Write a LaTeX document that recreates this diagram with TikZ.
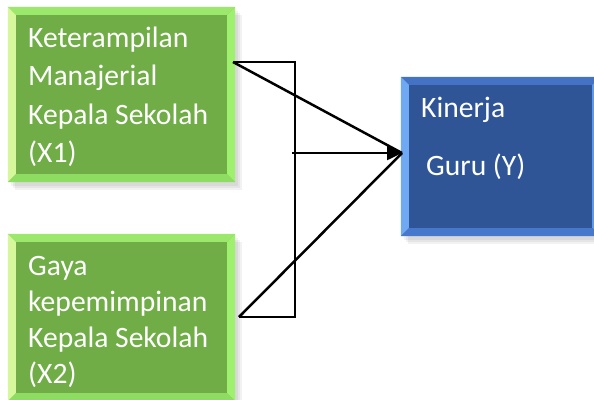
\documentclass[tikz,border=0pt]{standalone}
\usepackage{fontspec}
\setmainfont{Carlito}
\usetikzlibrary{arrows.meta,calc}
\definecolor{gface}{HTML}{70AD47}
\definecolor{gtop}{HTML}{9BE86C}
\definecolor{gleft}{HTML}{D6F79C}
\definecolor{gright}{HTML}{A0F070}
\definecolor{gbot}{HTML}{8FDC63}
\definecolor{bface}{HTML}{2F5597}
\definecolor{btop}{HTML}{4472C4}
\definecolor{bleft}{HTML}{6FA9F4}
\definecolor{bright}{HTML}{5B9BEF}
\definecolor{bbot}{HTML}{4878CC}
\tikzset{
  box/.style={rectangle, inner sep=0pt, draw=none},
  lbl/.style={anchor=base west, inner sep=0pt, text=white, font=\fontsize{29.6}{34}\selectfont},
  conn/.style={line width=2.5pt, draw=black},
}
\newcommand\bevelbox[6]{%
  \fill[black,opacity=0.05] ($(#1.north west)+(3,4)$) rectangle ($(#1.south east)+(3,4)$);
  \fill[black,opacity=0.05] ($(#1.north west)+(5,6)$) rectangle ($(#1.south east)+(5,6)$);
  \fill[black,opacity=0.05] ($(#1.north west)+(7,8)$) rectangle ($(#1.south east)+(7,8)$);
  \fill[#2] (#1.north west) rectangle (#1.south east);
  \fill[#3] (#1.north west) -- (#1.north east) -- ($(#1.north east)+(-8,8)$) -- ($(#1.north west)+(8,8)$) -- cycle;
  \fill[#4] (#1.north west) -- (#1.south west) -- ($(#1.south west)+(8,-8)$) -- ($(#1.north west)+(8,8)$) -- cycle;
  \fill[#5] (#1.north east) -- (#1.south east) -- ($(#1.south east)+(-8,-8)$) -- ($(#1.north east)+(-8,8)$) -- cycle;
  \fill[#6] (#1.south west) -- (#1.south east) -- ($(#1.south east)+(-8,-8)$) -- ($(#1.south west)+(8,-8)$) -- cycle;
  \fill[#2] ($(#1.north west)+(8,8)$) rectangle ($(#1.south east)+(-8,-8)$);
}
\begin{document}
\begin{tikzpicture}[x=1pt,y=-1pt]
\useasboundingbox (0,0) rectangle (594,399);
\clip (0,0) rectangle (594,399);
\fill[white] (0,0) rectangle (594,399);
\node[box, minimum width=227pt, minimum height=175pt] (X1) at (121.5,94.5) {};
\node[box, minimum width=227pt, minimum height=167pt] (X2) at (121.5,317.5) {};
\node[box, minimum width=199pt, minimum height=159pt] (Y) at (500.5,156.5) {};
\bevelbox{X1}{gface}{gtop}{gleft}{gright}{gbot}
\bevelbox{X2}{gface}{gtop}{gleft}{gright}{gbot}
\bevelbox{Y}{bface}{btop}{bleft}{bright}{bbot}
\node[lbl] (x1a) at (28,47) {Keterampilan};
\node[lbl] (x1b) at (28,85.5) {Manajerial};
\node[lbl] (x1c) at (28,124) {Kepala Sekolah};
\node[lbl] (x1d) at (28,162.5) {(X1)};
\node[lbl] (x2a) at (28,275) {Gaya};
\node[lbl] (x2b) at (28,311) {kepemimpinan};
\node[lbl] (x2c) at (28,347) {Kepala Sekolah};
\node[lbl] (x2d) at (28,383) {(X2)};
\node[lbl] (ya) at (421,117) {Kinerja};
\node[lbl] (yb) at (426,175) {Guru (Y)};
\coordinate (ta) at (233,62);
\coordinate (tv) at (295,62);
\coordinate (bv) at (295,317);
\coordinate (ba) at (239,317);
\coordinate (mh) at (292,153);
\coordinate (tip) at (402,153);
\draw[conn] (ta) -- (tv) -- (bv) -- (ba);
\draw[conn] (ta) -- (tip);
\draw[conn] (ba) -- (tip);
\draw[conn, -{Triangle[length=15pt,width=14pt]}] (mh) -- (tip);
\end{tikzpicture}
\end{document}
